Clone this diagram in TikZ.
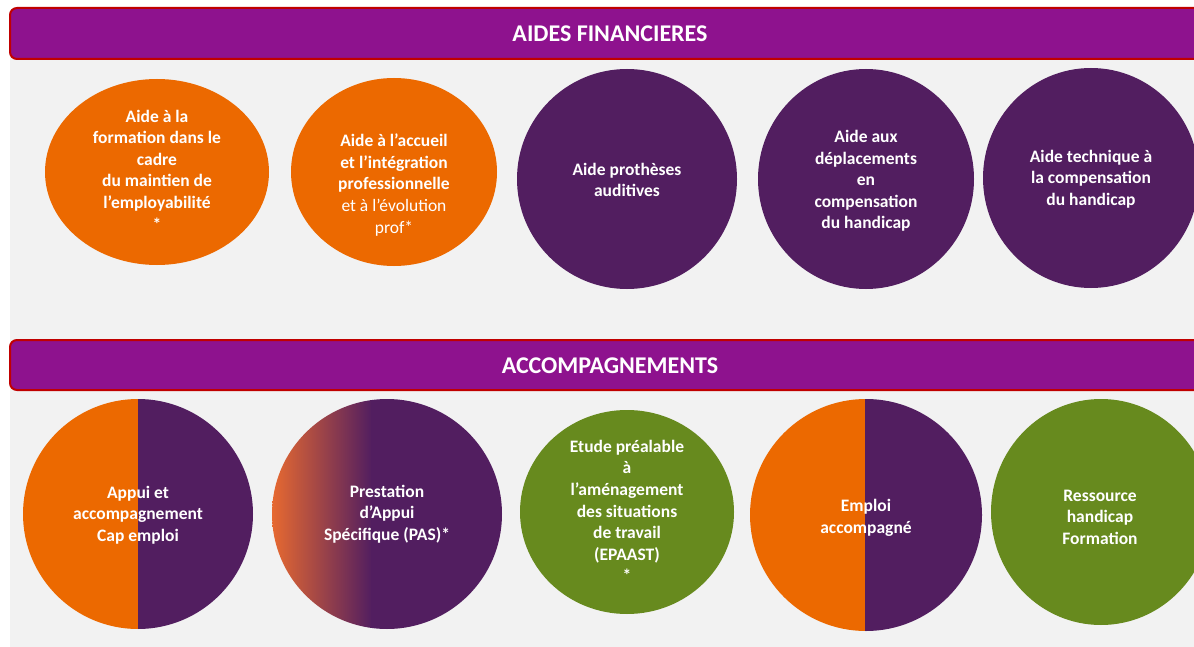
\documentclass[tikz,border=0pt]{standalone}
\usepackage{fontspec}
\setmainfont{Carlito}
\definecolor{fondgris}{RGB}{242,242,242}
\definecolor{violetbandeau}{RGB}{142,18,142}
\definecolor{rougebord}{RGB}{192,0,0}
\definecolor{orangeaide}{RGB}{236,105,0}
\definecolor{orangepas}{RGB}{232,106,48}
\definecolor{violetfonce}{RGB}{82,30,96}
\definecolor{vertepaast}{RGB}{103,138,30}
\tikzset{
  bandeau/.style={draw=rougebord, line width=2pt, fill=violetbandeau, rounded corners=7pt},
  titre/.style={text=white, font=\bfseries\fontsize{24}{28}\selectfont},
  etiquette/.style={text=white, align=center, inner sep=0pt, font=\bfseries\fontsize{17.5}{21.6}\selectfont}
}

\begin{document}
\begin{tikzpicture}[x=1pt,y=-1pt]
			%%%%% START %%%%%
			\useasboundingbox (0,0) rectangle (1194,647);
			\clip (0,0) rectangle (1194,647);
			
			\fill[fondgris] (10,30) rectangle (1194,647);
			
			% aides financieres
			\draw[bandeau] (10,8) rectangle (1214,59);
			\node[titre] (t-aides) at (610,34) {AIDES FINANCIERES};
			
			\fill[orangeaide] (157,172) ellipse (112pt and 93pt);
			\node[etiquette] (c-formation) at (157,170) {Aide à la\\formation dans le\\cadre\\du maintien de\\l’employabilité\\*};
			
			\fill[orangeaide] (394,172) ellipse (103pt and 94pt);
			\node[etiquette] (c-accueil) at (394,185) {Aide à l’accueil\\et l’intégration\\professionnelle\\\mdseries et à l’évolution\\\mdseries prof*};
			
			\fill[violetfonce] (627,179) ellipse (110pt and 110pt);
			\node[etiquette] (c-protheses) at (627,180) {Aide prothèses\\auditives};
			
			\fill[violetfonce] (866,179) ellipse (108pt and 110pt);
			\node[etiquette] (c-deplacements) at (866,181) {Aide aux\\déplacements\\en\\compensation\\du handicap};
			
			\fill[violetfonce] (1091,178) ellipse (108pt and 110pt);
			\node[etiquette] (c-technique) at (1091,179) {Aide technique à\\la compensation\\du handicap};
			
			% accompagnements
			\draw[bandeau] (10,340) rectangle (1214,390);
			\node[titre] (t-accomp) at (610,366) {ACCOMPAGNEMENTS};
			
			\begin{scope}
				\clip (138,514) circle (115pt);
				\fill[orangeaide] (20,395) rectangle (138,635);
				\fill[violetfonce] (138,395) rectangle (258,635);
			\end{scope}
			\node[etiquette] (c-capemploi) at (138,515) {Appui et\\accompagnement\\Cap emploi};
			
			\begin{scope}
				\clip (387,514) circle (115pt);
				\shade[left color=orangepas, right color=violetfonce] (271,395) rectangle (372,635);
				\fill[violetfonce] (371,395) rectangle (505,635);
			\end{scope}
			\node[etiquette] (c-pas) at (387,514) {Prestation\\d’Appui\\Spécifique (PAS)*};
			
			\fill[vertepaast] (627,512) ellipse (107pt and 102pt);
			\node[etiquette] (c-epaast) at (627,511) {Etude préalable\\à\\l’aménagement\\des situations\\de travail\\(EPAAST)\\*};
			
			\begin{scope}
				\clip (866,515) circle (116pt);
				\fill[orangeaide] (745,395) rectangle (865,635);
				\fill[violetfonce] (865,395) rectangle (990,635);
			\end{scope}
			\node[etiquette] (c-emploi) at (866,518) {Emploi\\accompagné};
			
			\fill[vertepaast] (1101,512) ellipse (110pt and 113pt);
			\node[etiquette] (c-ressource) at (1100,517) {Ressource\\handicap\\Formation};
			
			%%%%% END %%%%%
\end{tikzpicture}
\end{document}
